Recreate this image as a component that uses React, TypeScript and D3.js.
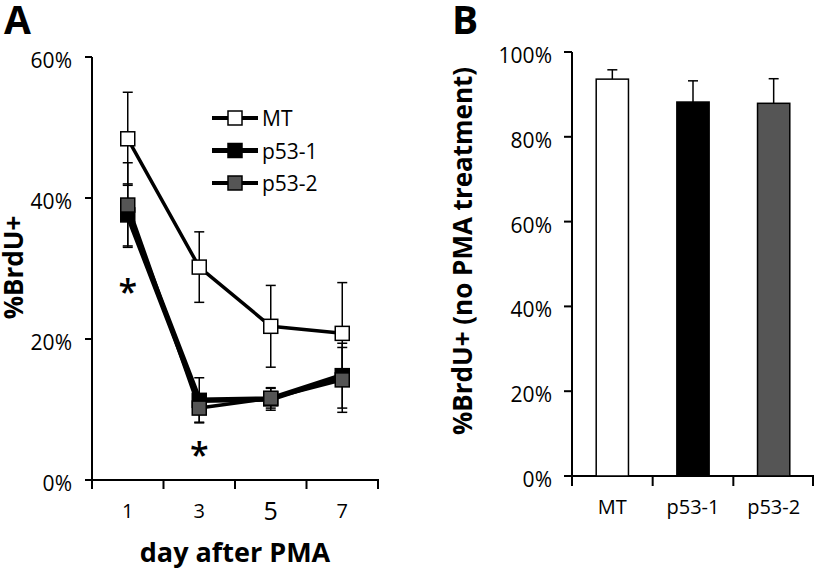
import React from "react";
import * as d3 from "d3";

// Panel A data
const days = ["1", "3", "5", "7"];
const mtMean = [48.4, 30.2, 21.8, 20.8];
const mtErr = [6.6, 5.0, 5.8, 7.2];
const p531Mean = [37.6, 11.3, 11.5, 14.8];
const p531Err = [4.4, 3.2, 1.6, 4.6];
const p532Mean = [39.0, 10.2, 11.6, 14.2];
const p532Err = [6.0, 2.0, 1.4, 4.6];
const yTicksA = [0, 20, 40, 60];
const sigDays = ["1", "3"];
const sigValues = [27.8, 4.7];

// Panel B data
const groups = ["MT", "p53-1", "p53-2"];
const barMean = [93.6, 88.2, 87.9];
const barErr = [2.2, 5.0, 5.8];
const yTicksB = [0, 20, 40, 60, 80, 100];

const FONT = "'Open Sans', sans-serif";
const GRAY = "#555555";

const seriesA = [
  { name: "MT", mean: mtMean, err: mtErr, fill: "#ffffff", lw: 3.5, legendLw: 4 },
  { name: "p53-1", mean: p531Mean, err: p531Err, fill: "#000000", lw: 5.5, legendLw: 5 },
  { name: "p53-2", mean: p532Mean, err: p532Err, fill: GRAY, lw: 3.5, legendLw: 4 },
];
const barFills = ["#ffffff", "#000000", GRAY];

export default function App() {
  // Panel A scales
  const xA = d3.scaleBand<string>().domain(days).range([92, 378]);
  const yA = d3.scaleLinear().domain([0, 60]).range([480, 57]);
  const cx = (d: string) => (xA(d) as number) + xA.bandwidth() / 2;
  const line = d3
    .line<number>()
    .x((_, i) => cx(days[i]))
    .y((v) => yA(v));

  // Panel B scales
  const xB = d3.scaleBand<string>().domain(groups).range([572, 814]);
  const yB = d3.scaleLinear().domain([0, 100]).range([476, 52]);
  const barW = xB.bandwidth() * 0.4;

  const msz = 14;
  const cap = 5;

  return (
    <svg
      width={815}
      height={570}
      style={{ position: "absolute", left: 0, top: 0, background: "#fff" }}
      fontFamily={FONT}
    >
      <rect width={815} height={570} fill="#fff" />
      {/* Panel labels */}
      <text x={4} y={34} fontSize={39} fontWeight={700}>A</text>
      <text x={452} y={34} fontSize={39} fontWeight={700}>B</text>

      {/* ===== Panel A ===== */}
      <line x1={92} x2={92} y1={yA(60)} y2={yA(0)} stroke="#000" strokeWidth={2} />
      {yTicksA.map((t) => (
        <g key={t}>
          <line x1={85} x2={92} y1={yA(t)} y2={yA(t)} stroke="#000" strokeWidth={2} />
          <text x={72} y={yA(t) + 11} fontSize={21} textAnchor="end">{t}%</text>
        </g>
      ))}
      <line x1={91} x2={379} y1={yA(0)} y2={yA(0)} stroke="#000" strokeWidth={2} />
      {[...days.map((d) => xA(d) as number), 378].map((x, i) => (
        <line key={i} x1={x} x2={x} y1={yA(0)} y2={yA(0) + 9} stroke="#000" strokeWidth={2} />
      ))}
      {days.map((d) => (
        <text key={d} x={cx(d)} y={d === "5" ? 520 : 518} fontSize={d === "5" ? 25 : 20} textAnchor="middle">
          {d}
        </text>
      ))}
      <text x={235} y={562} fontSize={27} fontWeight={700} textAnchor="middle">day after PMA</text>
      <text
        transform={`translate(23,${(yA(0) + yA(60)) / 2 - 1}) rotate(-90)`}
        fontSize={26}
        fontWeight={700}
        textAnchor="middle"
      >
        %BrdU+
      </text>

      {/* error bars */}
      {seriesA.map((s) =>
        s.mean.map((m, i) => {
          const x = cx(days[i]);
          const hi = yA(m + s.err[i]);
          const lo = yA(m - s.err[i]);
          return (
            <g key={s.name + i} stroke="#000" strokeWidth={1.5}>
              <line x1={x} x2={x} y1={hi} y2={lo} />
              <line x1={x - cap} x2={x + cap} y1={hi} y2={hi} />
              <line x1={x - cap} x2={x + cap} y1={lo} y2={lo} />
            </g>
          );
        })
      )}
      {/* lines */}
      {seriesA.map((s) => (
        <path key={s.name} d={line(s.mean) as string} fill="none" stroke="#000" strokeWidth={s.lw} strokeLinejoin="round" />
      ))}
      {/* markers */}
      {seriesA.map((s) =>
        s.mean.map((m, i) => (
          <rect
            key={s.name + "m" + i}
            x={cx(days[i]) - msz / 2}
            y={yA(m) - msz / 2}
            width={msz}
            height={msz}
            fill={s.fill}
            stroke="#000"
            strokeWidth={1.5}
          />
        ))
      )}
      {/* significance stars */}
      {sigDays.map((d, i) => (
        <text key={d} x={cx(d)} y={yA(sigValues[i]) + 20} fontSize={34} fontWeight={600} textAnchor="middle">*</text>
      ))}

      {/* legend */}
      {seriesA.map((s, i) => {
        const ly = 118 + i * 32.5;
        return (
          <g key={s.name}>
            <line x1={212} x2={258} y1={ly} y2={ly} stroke="#000" strokeWidth={s.legendLw} />
            <rect x={235 - msz / 2} y={ly - msz / 2} width={msz} height={msz} fill={s.fill} stroke="#000" strokeWidth={1.5} />
            <text x={262} y={ly + 8} fontSize={21}>{s.name}</text>
          </g>
        );
      })}

      {/* ===== Panel B ===== */}
      <line x1={572} x2={572} y1={yB(100)} y2={yB(0)} stroke="#000" strokeWidth={2} />
      {yTicksB.map((t) => (
        <g key={t}>
          <line x1={564} x2={572} y1={yB(t)} y2={yB(t)} stroke="#000" strokeWidth={2} />
          <text x={552} y={yB(t) + 11} fontSize={21} textAnchor="end">{t}%</text>
        </g>
      ))}
      <line x1={571} x2={814} y1={yB(0)} y2={yB(0)} stroke="#000" strokeWidth={2} />
      {[...groups.map((g) => xB(g) as number), 813].map((x, i) => (
        <line key={i} x1={x} x2={x} y1={yB(0)} y2={yB(0) + 10} stroke="#000" strokeWidth={2} />
      ))}
      {groups.map((g) => (
        <text key={g} x={(xB(g) as number) + xB.bandwidth() / 2} y={514} fontSize={20} textAnchor="middle">
          {g}
        </text>
      ))}
      <text
        transform={`translate(472,251) rotate(-90)`}
        fontSize={26}
        fontWeight={700}
        textAnchor="middle"
      >
        %BrdU+ (no PMA treatment)
      </text>
      {groups.map((g, i) => {
        const c = (xB(g) as number) + xB.bandwidth() / 2;
        const top = yB(barMean[i]);
        const et = yB(barMean[i] + barErr[i]);
        return (
          <g key={g}>
            <line x1={c} x2={c} y1={et} y2={top} stroke="#000" strokeWidth={1.5} />
            <line x1={c - cap} x2={c + cap} y1={et} y2={et} stroke="#000" strokeWidth={1.5} />
            <rect x={c - barW / 2} y={top} width={barW} height={yB(0) - top} fill={barFills[i]} stroke="#000" strokeWidth={1.5} />
          </g>
        );
      })}
    </svg>
  );
}
